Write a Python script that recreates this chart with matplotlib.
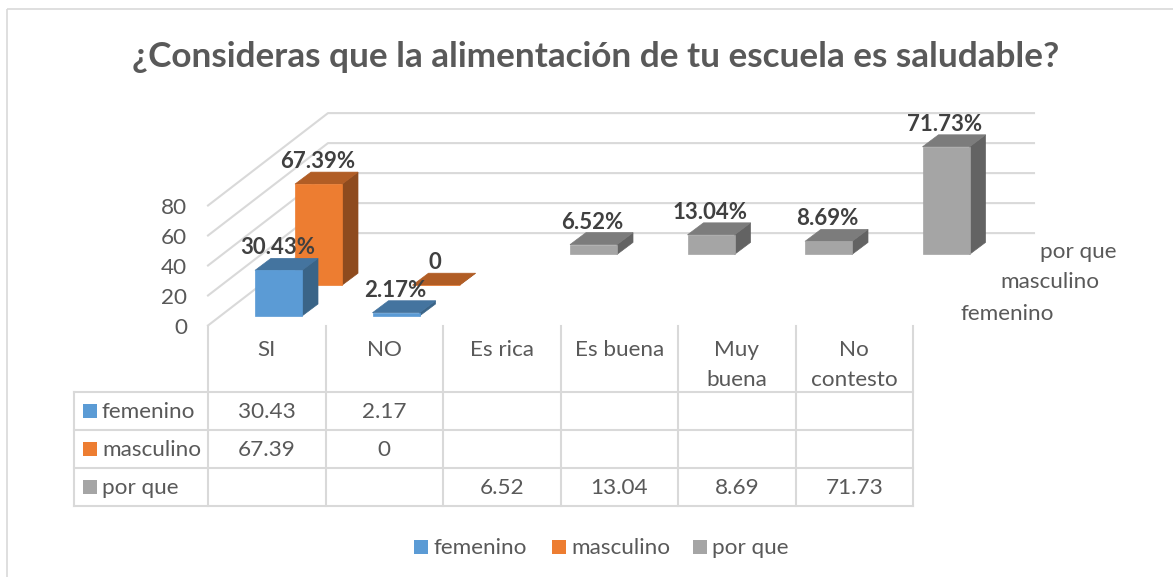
import matplotlib
matplotlib.use("Agg")
import matplotlib.pyplot as plt
from matplotlib.patches import Polygon, Rectangle

plt.rcParams['font.family'] = ['Lato', 'DejaVu Sans']

titulo = "¿Consideras que la alimentación de tu escuela es saludable?"
categorias = ["SI", "NO", "Es rica", "Es buena", "Muy\nbuena", "No\ncontesto"]
series = ["femenino", "masculino", "por que"]
femenino = [30.43, 2.17, None, None, None, None]
masculino = [67.39, 0, None, None, None, None]
por_que = [None, None, 6.52, 13.04, 8.69, 71.73]
etiquetas_fem = ["30.43%", "2.17%", None, None, None, None]
etiquetas_mas = ["67.39%", "0", None, None, None, None]
etiquetas_pq = [None, None, "6.52%", "13.04%", "8.69%", "71.73%"]
tabla_fem = ["30.43", "2.17", "", "", "", ""]
tabla_mas = ["67.39", "0", "", "", "", ""]
tabla_pq = ["", "", "6.52", "13.04", "8.69", "71.73"]
marcas_y = [0, 20, 40, 60, 80]

colores = ["#5B9BD5", "#ED7D31", "#A5A5A5"]
techos = ["#44749F", "#B15D25", "#7C7C7C"]
lados = ["#3A6487", "#8E4B1E", "#636363"]
gris = "#D9D9D9"
texto = "#595959"
tam = 16.2
ajuste = 1.5  # Lato queda un poco alto con va=center

# geometria de la proyeccion, en pixeles
x0, y0 = 208, 325.5
paso_cat = 117.5
paso_x, paso_y = 40, -30.8
px_unidad = 1.5
ancho_barra = 47
margen = 47
fondo_x, fondo_y = 16, -12
n_cat = len(categorias)

fig = plt.figure(figsize=(11.73, 5.77), dpi=100)
ax = fig.add_axes([0, 0, 1, 1])
ax.set_xlim(0, 1173)
ax.set_ylim(577, 0)
ax.axis("off")

ax.add_patch(Rectangle((7, 9), 1200, 600, fill=False, ec=gris, lw=1.2))
ax.text(596, 57, titulo, ha="center", va="center", fontsize=25.3, fontweight="bold", color=texto)

# paredes
for v in marcas_y:
    yf = y0 - v * px_unidad
    xb = x0 + 3 * paso_x
    yb = yf + 3 * paso_y
    ax.plot([x0, xb, 1034], [yf, yb, yb], color=gris, lw=1.5, zorder=1)
    ax.text(187, yf + 1 + ajuste, str(v), ha="right", va="center", fontsize=tam, color=texto)


def barra(i, s, valor):
    xa = x0 + i * paso_cat + margen + s * paso_x
    yb = y0 - 9.5 + s * paso_y
    yt = yb - valor * px_unidad
    xc = xa + ancho_barra
    z = 5 - s
    ax.add_patch(Polygon([(xc, yb), (xc + fondo_x, yb + fondo_y), (xc + fondo_x, yt + fondo_y), (xc, yt)],
                         fc=lados[s], ec=lados[s], lw=0.5, zorder=z))
    ax.add_patch(Polygon([(xa, yt), (xa + fondo_x, yt + fondo_y), (xc + fondo_x, yt + fondo_y), (xc, yt)],
                         fc=techos[s], ec=techos[s], lw=0.5, zorder=z))
    ax.add_patch(Rectangle((xa, yt), ancho_barra, yb - yt, fc=colores[s], ec=colores[s], lw=0.5, zorder=z))
    return xa + ancho_barra / 2, yt


valores = [femenino, masculino, por_que]
etiquetas = [etiquetas_fem, etiquetas_mas, etiquetas_pq]
for s in range(3):
    for i in range(n_cat):
        if valores[s][i] is None:
            continue
        xm, yt = barra(i, s, valores[s][i])
        ax.text(xm - 1, yt - 24 + ajuste, etiquetas[s][i], ha="center", va="center", fontsize=16,
                fontweight="bold", color="#404040", zorder=10)

# nombres de las series en el eje de profundidad
ax.text(1078, 251 + ajuste, series[2], ha="center", va="center", fontsize=tam, color=texto)
ax.text(1050, 281 + ajuste, series[1], ha="center", va="center", fontsize=tam, color=texto)
ax.text(1007, 312 + ajuste, series[0], ha="center", va="center", fontsize=tam, color=texto)

# tabla de datos
t_top, fila = 392, 38
t_left = 74
t_right = x0 + n_cat * paso_cat
for r in range(4):
    ax.plot([t_left, t_right], [t_top + r * fila] * 2, color=gris, lw=1.5, zorder=1)
ax.plot([t_left, t_left], [t_top, t_top + 3 * fila], color=gris, lw=1.5, zorder=1)
for i in range(n_cat + 1):
    xl = x0 + i * paso_cat
    ax.plot([xl, xl], [y0, t_top + 3 * fila], color=gris, lw=1.5, zorder=1)

filas = [tabla_fem, tabla_mas, tabla_pq]
for i, cat in enumerate(categorias):
    xm = x0 + (i + 0.5) * paso_cat
    for j, linea in enumerate(cat.split("\n")):
        ax.text(xm, 349 + ajuste + j * 29, linea, ha="center", va="center", fontsize=tam, color=texto)
    for r in range(3):
        ax.text(xm, t_top + (r + 0.5) * fila + ajuste, filas[r][i], ha="center", va="center", fontsize=tam, color=texto)
for r, nombre in enumerate(series):
    ym = t_top + (r + 0.5) * fila
    ax.add_patch(Rectangle((83, ym - 7), 14, 14, fc=colores[r], ec="none"))
    ax.text(102, ym + ajuste, nombre, ha="left", va="center", fontsize=tam, color=texto)

# leyenda
for xl, nombre, c in zip([414, 552, 693], series, colores):
    ax.add_patch(Rectangle((xl, 540), 14, 14, fc=c, ec="none"))
    ax.text(xl + 19, 547 + ajuste, nombre, ha="left", va="center", fontsize=tam, color=texto)

fig.savefig("out.png", dpi=100)
